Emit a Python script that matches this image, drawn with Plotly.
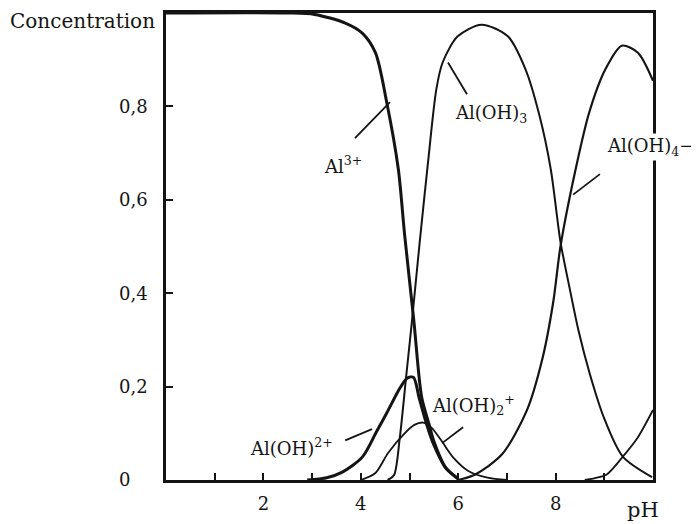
import plotly.graph_objects as go

# ---- data (pH, fraction) ----
ph_al3 = [0.0, 2.5, 3.05, 3.67, 4.03, 4.30, 4.53, 4.77, 4.90, 5.09, 5.25, 5.40, 5.51, 5.75, 6.0]
al3 = [1.0, 1.0, 0.997, 0.979, 0.957, 0.915, 0.81, 0.666, 0.525, 0.34, 0.177, 0.12, 0.08, 0.025, 0.003]

ph_aloh = [2.9, 3.3, 3.62, 4.03, 4.33, 4.53, 4.81, 4.95, 5.08, 5.2, 5.35, 5.5, 5.73, 6.0]
aloh = [0.0, 0.005, 0.017, 0.049, 0.105, 0.143, 0.198, 0.218, 0.22, 0.175, 0.12, 0.075, 0.028, 0.002]

ph_aloh2 = [4.0, 4.3, 4.56, 4.9, 5.1, 5.28, 5.45, 5.65, 5.9, 6.2, 6.6, 7.0]
aloh2 = [0.0, 0.015, 0.058, 0.10, 0.118, 0.123, 0.112, 0.085, 0.048, 0.02, 0.005, 0.0]

ph_aloh3 = [4.55, 4.68, 4.8, 4.93, 5.05, 5.21, 5.38, 5.55, 5.68, 5.99, 6.48, 7.02, 7.38, 7.67, 7.90,
            8.10, 8.27, 8.47, 8.70, 8.99, 9.38, 9.98]
aloh3 = [0.0, 0.01, 0.09, 0.22, 0.34, 0.51, 0.68, 0.836, 0.894, 0.95, 0.975, 0.95, 0.88, 0.78, 0.666,
         0.51, 0.42, 0.32, 0.228, 0.134, 0.05, 0.006]

ph_aloh4 = [6.0, 6.35, 6.9, 7.41, 7.73, 7.95, 8.1, 8.40, 8.69, 9.02, 9.36, 9.69, 10.0]
aloh4 = [0.0, 0.012, 0.055, 0.149, 0.26, 0.38, 0.50, 0.66, 0.787, 0.879, 0.93, 0.915, 0.855]

ph_aloh5 = [8.6, 8.81, 9.05, 9.38, 9.68, 10.0]
aloh5 = [0.0, 0.004, 0.012, 0.05, 0.09, 0.15]

x_tickvals = [1, 2, 3, 4, 5, 6, 7, 8, 9]
x_ticktext = ["", "2", "", "4", "", "6", "", "8", ""]
y_tickvals = [0, 0.2, 0.4, 0.6, 0.8]
y_ticktext = ["0\u00a0\u00a0\u00a0", "0,2", "0,4", "0,6", "0,8"]

INK = "#141414"
FONT = "DejaVu Serif"

fig = go.Figure()
series = [
    (ph_al3, al3, 3.0),
    (ph_aloh, aloh, 3.0),
    (ph_aloh2, aloh2, 1.8),
    (ph_aloh3, aloh3, 2.0),
    (ph_aloh4, aloh4, 2.2),
    (ph_aloh5, aloh5, 1.8),
]
for xs, ys, w in series:
    fig.add_trace(go.Scatter(x=xs, y=ys, mode="lines",
                             line=dict(color=INK, width=w, shape="spline", smoothing=0.8),
                             showlegend=False, hoverinfo="skip"))

# leader lines (label pointers)
pointers = [
    ((3.88, 0.732), (4.60, 0.809)),
    ((6.18, 0.826), (5.79, 0.894)),
    ((8.91, 0.655), (8.36, 0.611)),
    ((6.10, 0.113), (5.67, 0.079)),
    ((3.68, 0.085), (4.23, 0.109)),
]
for (x0, y0), (x1, y1) in pointers:
    fig.add_shape(type="line", x0=x0, y0=y0, x1=x1, y1=y1, xref="x", yref="y",
                  line=dict(color=INK, width=1.8))

labels = [
    ("Al<sup>3+</sup>", 3.63, 0.674, None),
    ("Al(OH)<sub>3</sub>", 6.67, 0.783, None),
    ("Al(OH)<sub>4</sub>−", 9.94, 0.713, "white"),
    ("Al(OH)<sub>2</sub><sup>+</sup>", 6.32, 0.16, None),
    ("Al(OH)<sup>2+</sup>", 2.57, 0.07, None),
]
for txt, x, y, bg in labels:
    fig.add_annotation(text=txt, x=x, y=y, xref="x", yref="y", showarrow=False,
                       xanchor="center", yanchor="middle",
                       font=dict(family=FONT, size=18, color=INK),
                       bgcolor=bg if bg else "rgba(0,0,0,0)")

fig.add_annotation(text="Concentration", x=-0.172, y=0.983, xref="paper", yref="paper",
                   xanchor="center", yanchor="middle",
                   showarrow=False, font=dict(family=FONT, size=20, color=INK))
fig.add_annotation(text="pH", x=0.979, y=-0.064, xref="paper", yref="paper",
                   xanchor="center", yanchor="middle",
                   showarrow=False, font=dict(family=FONT, size=21, color=INK))

fig.update_layout(
    width=691, height=516,
    margin=dict(l=158, r=46, t=2, b=44),
    paper_bgcolor="white", plot_bgcolor="white",
    xaxis=dict(range=[0, 10], showgrid=False, zeroline=False,
               showline=True, mirror=True, linecolor=INK, linewidth=2.5,
               ticks="inside", ticklen=7, tickwidth=1.6, tickcolor=INK,
               tickvals=x_tickvals, ticktext=x_ticktext,
               tickfont=dict(family=FONT, size=18, color=INK), ticklabelstandoff=6),
    yaxis=dict(range=[0, 1], showgrid=False, zeroline=False,
               showline=True, mirror=True, linecolor=INK, linewidth=2.5,
               ticks="inside", ticklen=7, tickwidth=2, tickcolor=INK,
               tickvals=y_tickvals, ticktext=y_ticktext,
               tickfont=dict(family=FONT, size=18, color=INK), ticklabelstandoff=12),
)

fig.write_html("out.html")
